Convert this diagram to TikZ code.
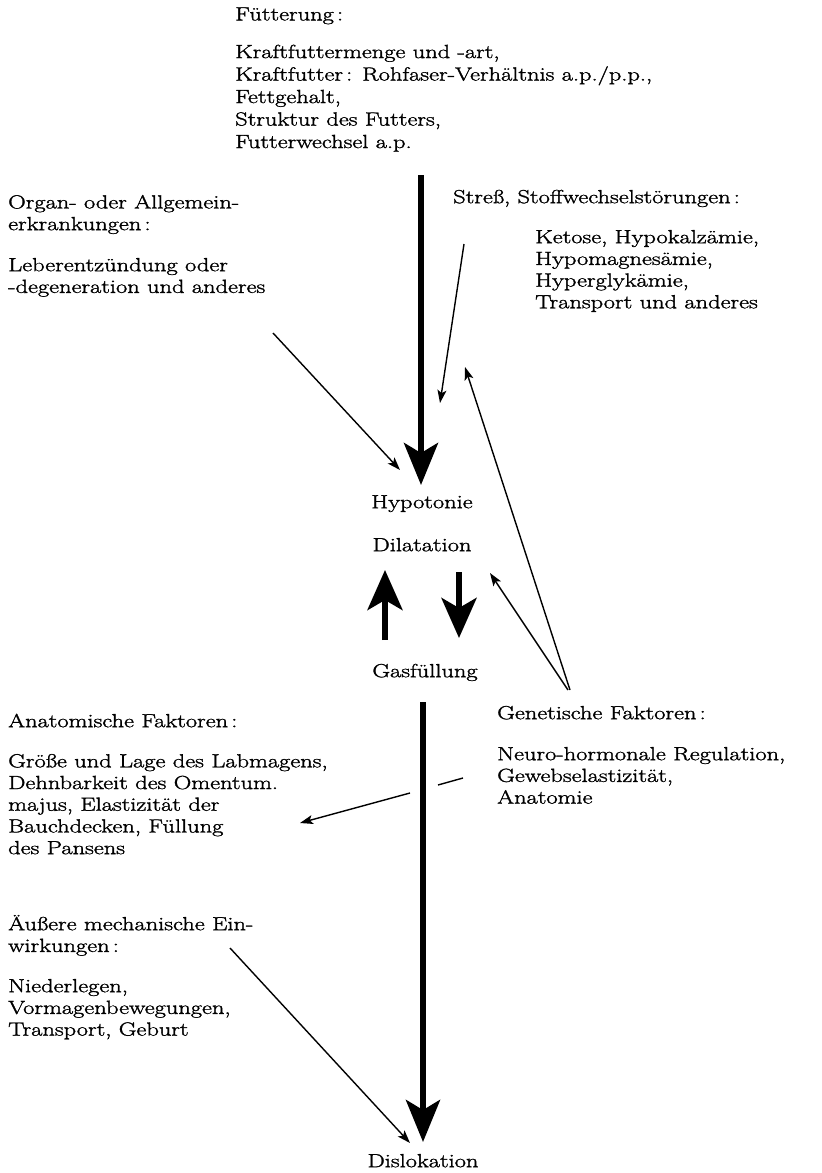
\documentclass[tikz,border=0pt]{standalone}
\usepackage{fontspec}
\setmainfont{Latin Modern Roman}[FakeStretch=1.285,FakeBold=1.5]
\usetikzlibrary{arrows.meta}
\begin{document}
\begin{tikzpicture}[x=1pt,y=-1pt,
  txt/.style={anchor=north west,inner sep=0pt,align=left,
    font=\fontsize{19}{21.7}\selectfont,execute at begin node=\strut},
  ctxt/.style={anchor=north,inner sep=0pt,
    font=\fontsize{19}{21.7}\selectfont,execute at begin node=\strut},
  thin/.style={line width=1.4pt,-{Stealth[length=13pt,width=9pt,inset=3pt]}},
  thick/.style={line width=6pt,-{Stealth[length=42pt,width=34pt,inset=10pt]}},
  thickm/.style={line width=6pt,-{Stealth[length=40pt,width=35pt,inset=10pt]}}]
\useasboundingbox (0,0) rectangle (822,1173);
\fill[white] (0,0) rectangle (822,1173);
% texts (north = baseline - 15.2)
\node[txt] (futh) at (235,5) {Fütterung\,:};
\node[txt,font=\fontsize{19}{22.5}\selectfont] (fut) at (235,44.5) {Kraftfuttermenge und -art,\\Kraftfutter\,: Rohfaser-Verhältnis a.p./p.p.,\\Fettgehalt,\\Struktur des Futters,\\Futterwechsel a.p.};
\node[txt] (orgh) at (8,194.8) {Organ- oder Allgemein-\\erkrankungen\,:};
\node[txt] (org) at (8,257.8) {Leberentzündung oder\\-degeneration und anderes};
\node[txt] (strh) at (453,187.8) {Streß, Stoffwechselstörungen\,:};
\node[txt] (str) at (535,229.8) {Ketose, Hypokalzämie,\\Hypomagnesämie,\\Hyperglykämie,\\Transport und anderes};
\node[ctxt] (hyp) at (422,492.8) {Hypotonie};
\node[ctxt] (dil) at (422,535.8) {Dilatation};
\node[ctxt] (gas) at (425,661.8) {Gasfüllung};
\node[txt] (anath) at (8,711.8) {Anatomische Faktoren\,:};
\node[txt] (anat) at (8,753.8) {Größe und Lage des Labmagens,\\Dehnbarkeit des Omentum.\\majus, Elastizität der\\Bauchdecken, Füllung\\des Pansens};
\node[txt] (genh) at (497,703.8) {Genetische Faktoren\,:};
\node[txt] (gen) at (497,746.8) {Neuro-hormonale Regulation,\\Gewebselastizität,\\Anatomie};
\node[txt] (aush) at (8,914.8) {Äußere mechanische Ein-\\wirkungen\,:};
\node[txt] (aus) at (8,978.8) {Niederlegen,\\Vormagenbewegungen,\\Transport, Geburt};
\node[ctxt] (dis) at (423,1151.8) {Dislokation};
% coordinates
\coordinate (futs) at (421,175);
\coordinate (hypn) at (421,485);
\coordinate (orgs) at (273,333);
\coordinate (orgt) at (400,470);
\coordinate (strs) at (464,244);
\coordinate (strt) at (440,403);
\coordinate (gena) at (570,690);
\coordinate (genb) at (568,690);
\coordinate (strb) at (465,367);
\coordinate (dilr) at (490,573);
\coordinate (dilu) at (385,570);
\coordinate (gasu) at (385,640);
\coordinate (dild) at (459,572);
\coordinate (gasd) at (459,638);
\coordinate (gasb) at (423,702);
\coordinate (dist) at (423,1142);
\coordinate (genl) at (463,778);
\coordinate (gapr) at (438,785);
\coordinate (gapl) at (410,793);
\coordinate (anatr) at (300,823);
\coordinate (auss) at (230,948);
\coordinate (aust) at (410,1143);
% connectors
\draw[thick] (futs) -- (hypn);
\draw[thin] (orgs) -- (orgt);
\draw[thin] (strs) -- (strt);
\draw[thin] (gena) -- (strb);
\draw[thin] (genb) -- (dilr);
\draw[thickm] (gasu) -- (dilu);
\draw[thickm] (dild) -- (gasd);
\draw[thick] (gasb) -- (dist);
\draw[line width=1.4pt] (genl) -- (gapr);
\draw[thin] (gapl) -- (anatr);
\draw[thin] (auss) -- (aust);
\end{tikzpicture}
\end{document}
